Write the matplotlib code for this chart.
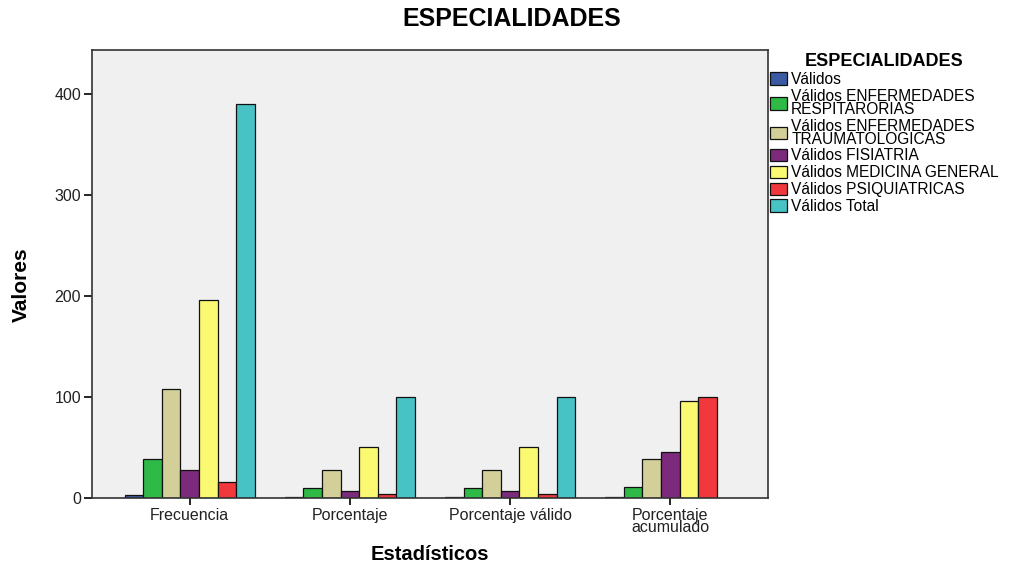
import matplotlib
matplotlib.use("Agg")
import matplotlib.pyplot as plt
import numpy as np
from matplotlib.patches import Patch

# Estadísticos por especialidad
estadisticos = ["Frecuencia", "Porcentaje", "Porcentaje válido", "Porcentaje\nacumulado"]
especialidades = [
    "Válidos",
    "Válidos ENFERMEDADES\nRESPITARORIAS",
    "Válidos ENFERMEDADES\nTRAUMATOLOGICAS",
    "Válidos FISIATRIA",
    "Válidos MEDICINA GENERAL",
    "Válidos PSIQUIATRICAS",
    "Válidos Total",
]
frecuencia = [3, 39, 108, 28, 196, 16, 390]
porcentaje = [0.8, 10.0, 27.7, 7.2, 50.3, 4.1, 100.0]
porcentaje_valido = [0.8, 10.0, 27.7, 7.2, 50.3, 4.1, 100.0]
porcentaje_acumulado = [0.8, 10.8, 38.5, 45.6, 95.9, 100.0, np.nan]

colores = ["#3a5aa3", "#2fba48", "#d3cf98", "#7c2a7c", "#fbf871", "#f1383c", "#47c2c5"]

valores = np.array([frecuencia, porcentaje, porcentaje_valido, porcentaje_acumulado])

plt.rcParams["font.family"] = ["Liberation Sans", "DejaVu Sans"]

fig = plt.figure(figsize=(10.21, 5.67), dpi=100)
ax = fig.add_axes([92 / 1021, 69 / 567, 676 / 1021, 448 / 567])
ax.set_facecolor("#f0f0f0")

x = np.arange(len(estadisticos))
ancho = 0.116
n = len(especialidades)
for i in range(n):
    pos = x + (i - (n - 1) / 2) * ancho
    ax.bar(pos, valores[:, i], width=ancho, color=colores[i],
           edgecolor="#111111", linewidth=0.9)

ax.set_xlim(-0.61, 3.61)
ax.set_ylim(0, 444)
ax.set_yticks([0, 100, 200, 300, 400])
ax.set_xticks(x)
ax.set_xticklabels(estadisticos, fontsize=11.5, linespacing=0.8, color="#222222")
ax.tick_params(axis="y", labelsize=11.5, labelcolor="#222222", length=6, width=1.2,
               direction="out", pad=2)
ax.tick_params(axis="x", length=5, width=1.2, direction="out", pad=2)
for s in ax.spines.values():
    s.set_linewidth(1.2)
    s.set_color("#333333")

# Títulos de ejes y del gráfico
fig.text(21 / 1021, 1 - 285 / 567, "Valores", rotation=90, ha="center", va="center",
         fontsize=15, fontweight="bold",
         family=["Liberation Sans Narrow", "Liberation Sans", "DejaVu Sans"])
fig.text(430 / 1021, 1 - 555 / 567, "Estadísticos", ha="center", va="center",
         fontsize=14.5, fontweight="bold")
fig.text(512 / 1021, 1 - 19 / 567, "ESPECIALIDADES", ha="center", va="center",
         fontsize=18, fontweight="bold")

handles = [Patch(facecolor=c, edgecolor="#111111", linewidth=0.9) for c in colores]
leg = fig.legend(handles, especialidades, loc="upper left",
                 bbox_to_anchor=(764 / 1021, 1 - 47 / 567), frameon=False,
                 title="ESPECIALIDADES", fontsize=11.2, handlelength=1.1,
                 handleheight=0.85, handletextpad=0.25, labelspacing=0.12,
                 borderaxespad=0)
leg.get_title().set_fontweight("bold")
leg.get_title().set_fontsize(13)
for t in leg.get_texts():
    t.set_linespacing(0.82)

fig.savefig("out.png", dpi=100)
